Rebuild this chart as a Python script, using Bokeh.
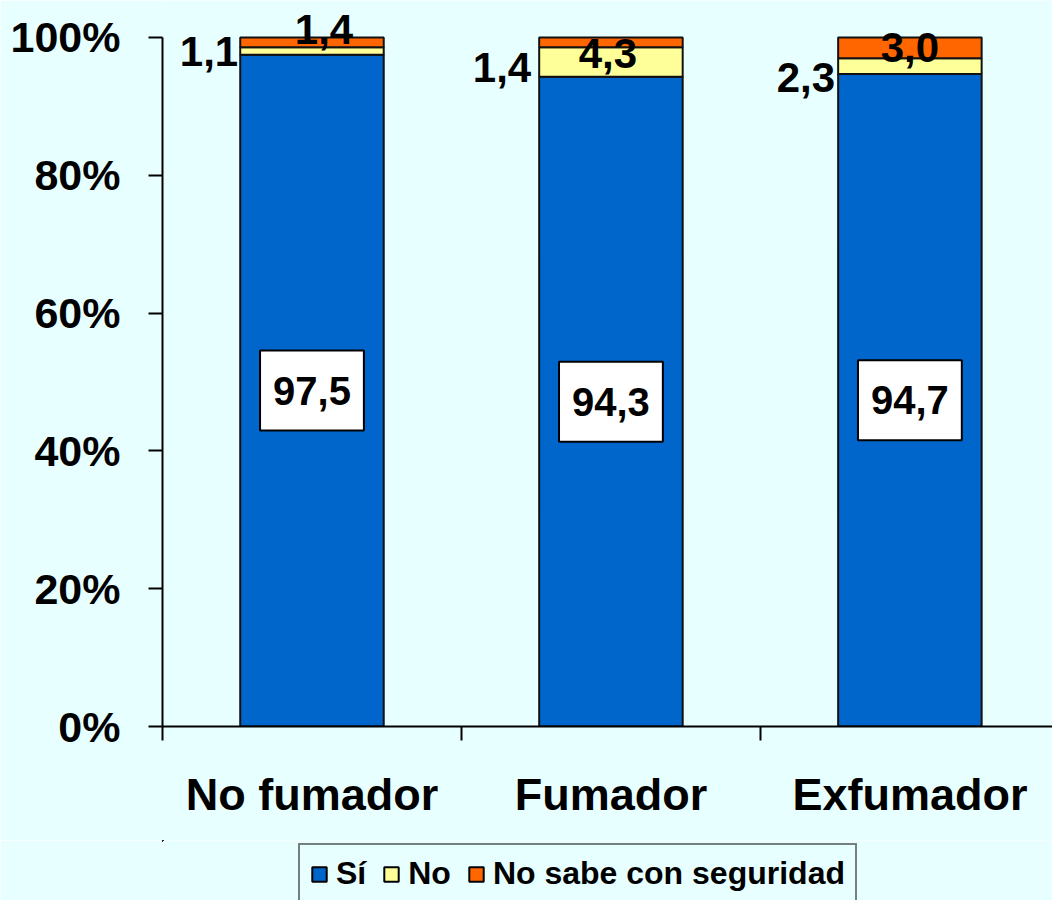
from bokeh.plotting import figure
from bokeh.layouts import column
from bokeh.models import (Range1d, FixedTicker, Label, ColumnDataSource,
                          Legend, LegendItem)
from bokeh.embed import file_html
from bokeh.resources import INLINE

# ---- data ----
categories = ["No fumador", "Fumador", "Exfumador"]
si = [97.5, 94.3, 94.7]
no = [1.1, 4.3, 2.3]
ns = [1.4, 1.4, 3.0]
series_names = ["Sí", "No", "No sabe con seguridad"]
y_ticks = [0, 20, 40, 60, 80, 100]
y_tick_labels = ["0%", "20%", "40%", "60%", "80%", "100%"]

# small value labels as shown in the original (side / top of each bar)
side_vals = [no[0], ns[1], no[2]]
top_vals = [ns[0], no[1], ns[2]]
side_y = [98.0, 95.6, 94.2]
top_y = [101.2, 97.7, 98.5]
top_dx = [12, -3, 0]
side_dx = [-2, -8, -3]

# ---- styles ----
BG = "#E8FFFF"
COLORS = ["#0066CC", "#FFFF99", "#FF6600"]
FONT = "Liberation Sans"
BAR_W = 0.48


def fmt(v):
    return f"{v:.1f}".replace(".", ",")


xs = [i + 0.5 for i in range(len(categories))]
src = ColumnDataSource(dict(x=xs, si=si, no=no, ns=ns))

p = figure(width=1052, height=840, output_backend="svg", toolbar_location=None,
           x_range=Range1d(0, 2.977), y_range=Range1d(0, 105.37),
           min_border_left=162, min_border_right=0, min_border_top=0,
           min_border_bottom=114)
p.background_fill_color = BG
p.border_fill_color = BG
p.outline_line_color = None
p.grid.visible = False

rs = p.vbar_stack(["si", "no", "ns"], x="x", width=BAR_W, color=COLORS,
                  line_color="#111111", line_width=2, source=src)

# boxed labels for "Sí"
for x, v in zip(xs, si):
    p.add_layout(Label(x=x, y=v / 2, text=fmt(v),
                       text_align="center", text_baseline="middle",
                       text_font=FONT, text_font_style="bold",
                       text_font_size="40px", text_color="black",
                       background_fill_color="white",
                       border_line_color="black", border_line_width=2,
                       padding=(13, 26)))

for x, y, v, dx in zip(xs, side_y, side_vals, side_dx):
    p.add_layout(Label(x=x - BAR_W / 2, y=y, text=fmt(v), x_offset=dx,
                       text_align="right", text_baseline="middle",
                       text_font=FONT, text_font_style="bold",
                       text_font_size="42px", text_color="black"))
for x, y, v, dx in zip(xs, top_y, top_vals, top_dx):
    p.add_layout(Label(x=x, y=y, text=fmt(v), x_offset=dx,
                       text_align="center", text_baseline="middle",
                       text_font=FONT, text_font_style="bold",
                       text_font_size="42px", text_color="black"))

# y axis
ya = p.yaxis[0]
ya.bounds = (0, 100)
ya.ticker = FixedTicker(ticks=y_ticks, minor_ticks=[])
ya.major_label_overrides = {t: l for t, l in zip(y_ticks, y_tick_labels)}
ya.major_label_text_font = FONT
ya.major_label_text_font_style = "bold"
ya.major_label_text_font_size = "43px"
ya.major_label_text_color = "black"
ya.major_label_standoff = 28
ya.major_tick_out = 14
ya.major_tick_in = 0
ya.major_tick_line_width = 2
ya.major_tick_line_color = "black"
ya.axis_line_width = 2
ya.axis_line_color = "black"

# x axis
xa = p.xaxis[0]
xa.ticker = FixedTicker(ticks=xs, minor_ticks=list(range(len(categories) + 1)))
xa.major_label_overrides = {x: c for x, c in zip(xs, categories)}
xa.major_label_text_font = FONT
xa.major_label_text_font_style = "bold"
xa.major_label_text_font_size = "45px"
xa.major_label_text_color = "black"
xa.major_label_standoff = 28
xa.major_tick_out = 0
xa.major_tick_in = 0
xa.minor_tick_out = 14
xa.minor_tick_in = 0
xa.minor_tick_line_width = 2
xa.minor_tick_line_color = "black"
xa.axis_line_width = 2
xa.axis_line_color = "black"

# ---- legend strip below the chart (same series, drawn far out of view) ----
q = figure(width=1052, height=60, output_backend="svg", toolbar_location=None,
           x_range=Range1d(100, 102.977), y_range=Range1d(-300, -200),
           x_axis_location=None, y_axis_location=None,
           min_border=0)
q.background_fill_color = BG
q.border_fill_color = BG
q.outline_line_color = None
q.grid.visible = False
proxies = q.vbar_stack(["si", "no", "ns"], x="x", width=BAR_W, color=COLORS,
                       line_color="black", line_width=2, source=src)
legend = Legend(items=[LegendItem(label=n, renderers=[r])
                       for n, r in zip(series_names, proxies)],
                orientation="horizontal", location=(136, -4),
                glyph_width=18, glyph_height=18, label_standoff=8, spacing=16,
                padding=10, margin=0,
                label_text_font=FONT, label_text_font_style="bold",
                label_text_font_size="32px", label_text_color="black",
                border_line_color="black", border_line_width=2,
                background_fill_color=BG, background_fill_alpha=1)
q.add_layout(legend)

layout = column(p, q, spacing=0)
open("out.html", "w").write(file_html(layout, INLINE))
